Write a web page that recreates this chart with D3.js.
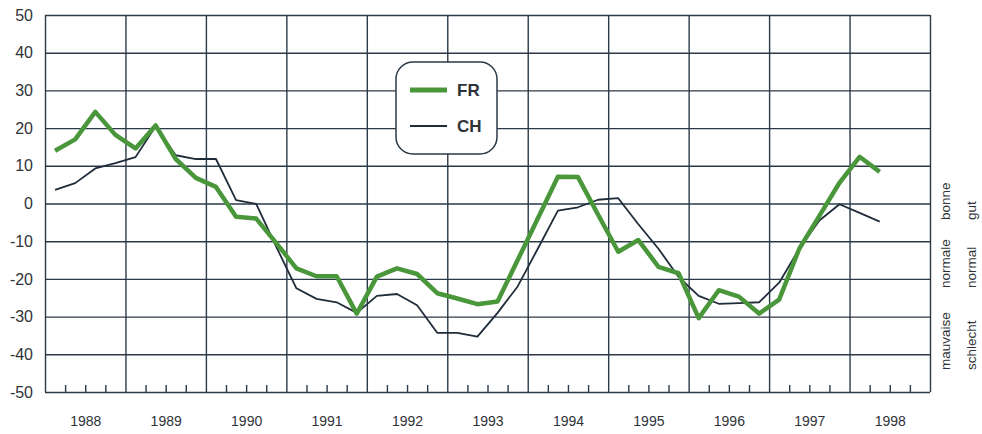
<!DOCTYPE html>
<html lang="fr">
  <head>
    <meta charset="utf-8">
    <script type="text/javascript" src="https://cdn.jsdelivr.net/npm/d3@7/dist/d3.min.js"></script>
    <style media="screen">
      body { margin: 0; background: white; }
      svg text { font-family: "Liberation Sans", Arial, sans-serif; fill: #2f3338; }
      g.grid line { stroke: #2c3a48; stroke-width: 1.4; }
      g.grid path { display: none; }
    </style>
    <title></title>
  </head>
  <body>
    <script type="text/javascript">
      var width = 982;
      var height = 434;

      // years shown, one column each (data is quarterly, from 1988 Q1)
      var years = [1988, 1989, 1990, 1991, 1992, 1993, 1994, 1995, 1996, 1997, 1998];
      var yTicks = [-50, -40, -30, -20, -10, 0, 10, 20, 30, 40, 50];

      var fr = [14, 17, 24.3, 18.2, 14.6, 20.7, 11.8, 6.8,
                4.4, -3.5, -4, -10.5, -17.2, -19.3, -19.3, -29.2,
                -19.4, -17.2, -18.7, -23.8, -25.2, -26.7, -26, -15,
                -4, 7.1, 7, -3, -12.8, -9.7, -16.8, -18.5,
                -30.4, -23, -24.7, -29.2, -25.5, -12, -3.3, 5.5,
                12.4, 8.4];
      var ch = [3.6, 5.4, 9.3, 10.7, 12.3, 20.5, 12.8, 11.8,
                11.8, 0.9, -0.1, -11.5, -22.5, -25.3, -26.2, -29,
                -24.5, -24, -27, -34.3, -34.3, -35.3, -29, -22,
                -12, -1.9, -1, 1, 1.4, -5.5, -12, -19.5,
                -24.5, -26.6, -26.4, -26.2, -21, -12, -4.5, -0.2,
                -2.5, -4.8];

      var seriesNames = ["FR", "CH"];
      var rightLabels = [["bonne", "gut"], ["normale", "normal"], ["mauvaise", "schlecht"]];

      var plotLeft = 45, plotRight = 930, plotTop = 15, plotBottom = 392;

      var x = d3.scaleLinear().domain([0, years.length * 4]).range([plotLeft, plotRight]);
      var y = d3.scaleLinear().domain([-50, 50]).range([plotBottom, plotTop]);

      var svg = d3.select("body").append("svg")
        .attr("width", width).attr("height", height);

      // horizontal grid
      svg.append("g").attr("class", "grid")
        .attr("transform", "translate(" + plotLeft + ",0)")
        .call(d3.axisLeft(y).tickValues(yTicks).tickSize(-(plotRight - plotLeft)).tickFormat(""));

      // vertical grid at year boundaries
      svg.append("g").attr("class", "grid")
        .attr("transform", "translate(0," + plotTop + ")")
        .call(d3.axisBottom(x).tickValues(d3.range(0, years.length * 4 + 1, 4))
          .tickSize(plotBottom - plotTop).tickFormat(""));

      // quarter ticks on the bottom line
      var quarters = d3.range(0, years.length * 4).filter(function(q){ return q % 4 != 0; });
      svg.append("g").attr("class", "grid")
        .attr("transform", "translate(0," + plotBottom + ")")
        .call(d3.axisTop(x).tickValues(quarters).tickSize(7).tickFormat(""));

      // y labels (plain hyphen for negatives, like the original)
      var yAxis = svg.append("g")
        .attr("transform", "translate(" + (plotLeft - 12) + ",0)")
        .call(d3.axisLeft(y).tickValues(yTicks).tickSize(0).tickPadding(0)
          .tickFormat(function(d){ return String(d); }));
      yAxis.select(".domain").remove();
      yAxis.selectAll("text").style("font-size", "16px").style("font-family", null).attr("fill", "#2f3338");

      // year labels
      var xAxis = svg.append("g")
        .attr("transform", "translate(0," + (plotBottom + 21) + ")")
        .call(d3.axisBottom(x).tickValues(years.map(function(d, i){ return i * 4 + 2; }))
          .tickSize(0).tickFormat(function(d){ return years[(d - 2) / 4]; }));
      xAxis.select(".domain").remove();
      xAxis.selectAll("text").style("font-size", "14px").style("font-family", null).attr("fill", "#2f3338");

      var line = d3.line()
        .x(function(d, i){ return x(i + 0.5); })
        .y(function(d){ return y(d); });

      svg.append("path").datum(ch)
        .attr("d", line).attr("fill", "none")
        .attr("stroke", "#1f2c3a").attr("stroke-width", 1.8)
        .attr("stroke-linejoin", "round");

      svg.append("path").datum(fr)
        .attr("d", line).attr("fill", "none")
        .attr("stroke", "#4a973b").attr("stroke-width", 4.5)
        .attr("stroke-linejoin", "round");

      // legend
      var lg = svg.append("g").attr("transform", "translate(396,62)");
      lg.append("rect").attr("width", 101).attr("height", 92).attr("rx", 17)
        .attr("fill", "white").attr("stroke", "#2c3a48").attr("stroke-width", 1.5);
      lg.selectAll("line.key").data(seriesNames).enter().append("line")
        .attr("x1", 14).attr("x2", 51)
        .attr("y1", function(d, i){ return 28 + i * 36; })
        .attr("y2", function(d, i){ return 28 + i * 36; })
        .attr("stroke", function(d, i){ return i == 0 ? "#4a973b" : "#1f2c3a"; })
        .attr("stroke-width", function(d, i){ return i == 0 ? 5 : 1.8; });
      lg.selectAll("text").data(seriesNames).enter().append("text")
        .attr("x", 61)
        .attr("y", function(d, i){ return 28 + i * 36; })
        .attr("dy", "0.36em")
        .style("font-size", "17px").style("font-weight", "bold")
        .text(function(d){ return d; });

      // rating labels on the right
      var anchorsY = [220, 288, 370];
      rightLabels.forEach(function(pair, k){
        pair.forEach(function(t, j){
          svg.append("text")
            .attr("transform", "translate(" + (946 + j * 26) + "," + anchorsY[k] + ") rotate(-90)")
            .attr("dominant-baseline", "middle")
            .style("font-size", "13.5px")
            .text(t);
        });
      });
    </script>
  </body>
</html>
